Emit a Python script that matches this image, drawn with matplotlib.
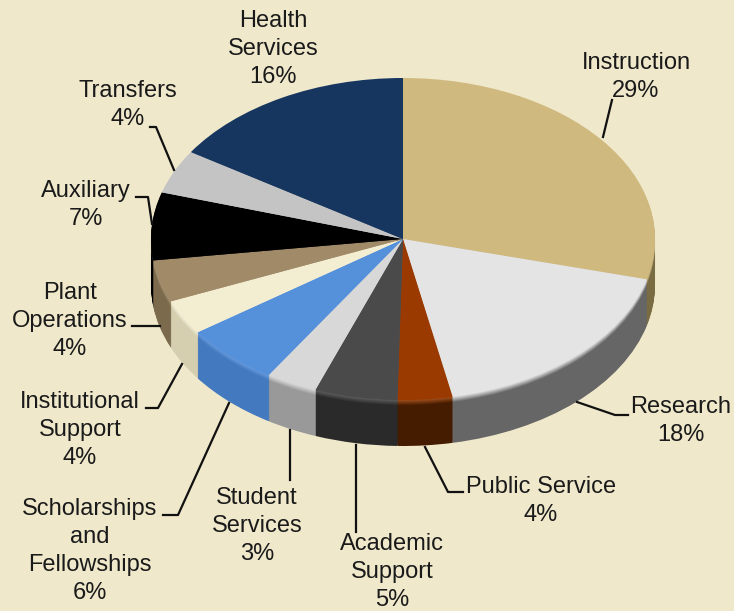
import matplotlib
matplotlib.use("Agg")
import matplotlib.pyplot as plt
from matplotlib.colors import to_rgb
import numpy as np

categories = ["Instruction", "Research", "Public Service", "Academic\nSupport", "Student\nServices",
              "Scholarships\nand\nFellowships", "Institutional\nSupport", "Plant\nOperations",
              "Auxiliary", "Transfers", "Health\nServices"]
values = [29.0, 17.8, 3.5, 5.3, 3.3, 6.2, 3.5, 4.2, 6.8, 4.4, 15.9]
percent_labels = ["29%", "18%", "4%", "5%", "3%", "6%", "4%", "4%", "7%", "4%", "16%"]
top_colors = ["#CFB97E", "#E4E4E4", "#9B3A00", "#4A4A4A", "#D8D8D8", "#5590DB",
              "#F3EDD2", "#A08A67", "#000000", "#C4C4C4", "#17365F"]
wall_colors = ["#7A6C42", "#666666", "#461C00", "#2A2A2A", "#999999", "#4379BE",
               "#D5CFB0", "#7C6A4C", "#000000", "#888888", "#0E2240"]
label_x = [636, 681, 541, 392, 257, 90, 80, 70, 86, 128, 273]
label_y = [77, 421, 501, 572, 526, 551, 430, 321, 205, 105, 49]
leaders = [
    [(603, 137), (612, 100)],
    [(577, 402), (615, 415), (628, 415)],
    [(425, 447), (448, 492), (463, 492)],
    [(356, 445), (356, 532)],
    [(290, 430), (290, 480)],
    [(229, 403), (178, 515), (163, 515)],
    [(182, 364), (158, 408), (146, 408)],
    [(160, 326), (132, 326)],
    [(152, 224), (148, 197), (136, 197)],
    [(174, 170), (156, 127), (150, 127)],
]

BG = "#EFE8CB"
W, H = 734, 611
CX, CY, RX, RY, DEPTH = 403, 239, 252, 161, 46

plt.rcParams["font.family"] = ["Liberation Sans", "DejaVu Sans"]
fig = plt.figure(figsize=(W / 100, H / 100), dpi=100, facecolor=BG)
ax = fig.add_axes([0, 0, 1, 1])


def mix(a, b, t):
    a, b = np.array(to_rgb(a)), np.array(to_rgb(b))
    return tuple(a * (1 - t) + b * t)


# side wall: stacked layers of the same pie, bevelled towards the top face
for d in range(DEPTH, 0, -1):
    t = max(0.0, 1 - d / 6)
    cols = [mix(w, mix(c, "#FFFFFF", 0.12), t) for w, c in zip(wall_colors, top_colors)]
    ax.pie(values, colors=cols, startangle=90, counterclock=False, radius=1,
           center=(0, -d / RY), wedgeprops=dict(linewidth=0))
# top face
ax.pie(values, colors=top_colors, startangle=90, counterclock=False, radius=1,
       center=(0, 0), wedgeprops=dict(linewidth=0))

ax.set_aspect("auto")
ax.set_xlim(-CX / RX, (W - CX) / RX)
ax.set_ylim((CY - H) / RY, CY / RY)
ax.axis("off")

for name, p, x, y in zip(categories, percent_labels, label_x, label_y):
    fig.text(x / W, 1 - y / H, f"{name}\n{p}", ha="center", va="center", fontsize=17,
             color="#1A1A1A", linespacing=1.37)
for pts in leaders:
    xs = [p[0] / W for p in pts]
    ys = [1 - p[1] / H for p in pts]
    fig.add_artist(plt.Line2D(xs, ys, color="#111111", lw=1.6, transform=fig.transFigure))

fig.savefig("out.png", dpi=100, facecolor=BG)
